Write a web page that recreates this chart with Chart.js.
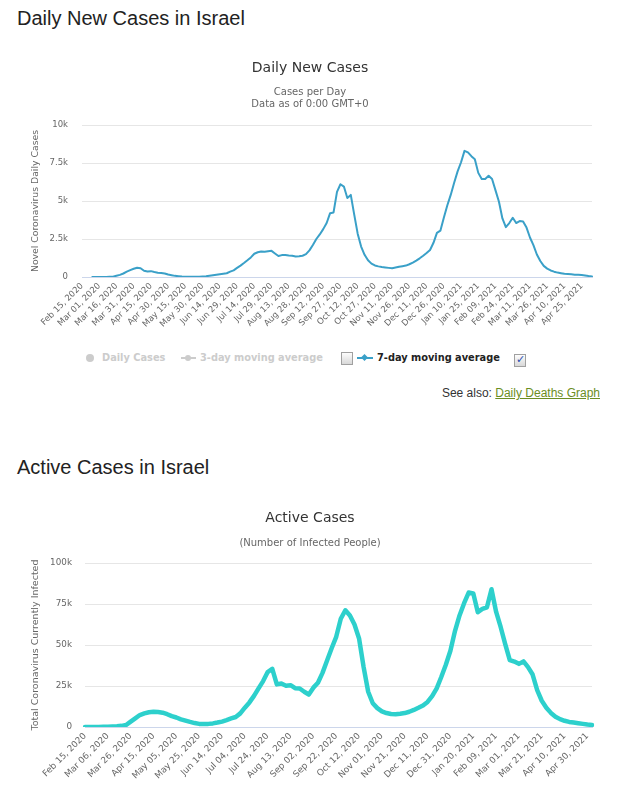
<!DOCTYPE html>
<html>
<head>
<meta charset="utf-8">
<script src="https://cdn.jsdelivr.net/npm/chart.js@4/dist/chart.umd.min.js"></script>
<style>
  html, body { margin: 0; padding: 0; background: #fff; }
  body { width: 620px; height: 800px; position: relative; overflow: hidden; font-family: "Liberation Sans", Arial, sans-serif; }
  .heading { position: absolute; left: 17px; margin: 0; font-weight: normal; font-size: 20px; line-height: 24px; color: #222; }
  #head1 { top: 6px; }
  #head2 { top: 455px; }
  canvas { position: absolute; left: 0; }
  #c1 { top: 50px; }
  #c2 { top: 495px; }
  .lg { position: absolute; font-family: "DejaVu Sans", Verdana, sans-serif; font-size: 9.8px; font-weight: bold; line-height: 14px; top: 351px; white-space: nowrap; }
  .off { color: #cccccc; }
  .on { color: #222; }
  .dot { position: absolute; top: 354px; left: 86px; width: 8px; height: 8px; border-radius: 50%; background: #cccccc; }
  .sym { position: absolute; height: 2px; top: 357px; }
  .symdot { position: absolute; top: 355px; width: 6px; height: 6px; border-radius: 50%; background: #cccccc; }
  .diam { position: absolute; top: 355px; width: 5px; height: 5px; background: #3aa0c8; transform: rotate(45deg); }
  .cb { position: absolute; width: 10px; height: 11px; border: 1px solid #a0a0a0; background: linear-gradient(#fdfdfd, #d8d8d8); box-sizing: content-box; }
  .cb span { position: absolute; left: 1px; top: -2px; font-size: 11px; color: #2a4fb0; font-family: "DejaVu Sans", sans-serif; }
  #seealso { position: absolute; right: 20px; top: 385px; font-size: 12px; line-height: 16px; color: #333; }
  #seealso a { color: #6b8e23; text-decoration: underline; }
</style>
</head>
<body>
<h2 class="heading" id="head1">Daily New Cases in Israel</h2>
<canvas id="c1" width="620" height="295"></canvas>

<div class="dot"></div>
<div class="lg off" style="left:102px;">Daily Cases</div>
<div class="sym" style="left:181px;width:15px;background:#cccccc;"></div>
<div class="symdot" style="left:185px;"></div>
<div class="lg off" style="left:200px;">3-day moving average</div>
<div class="cb" style="left:341px;top:352px;"></div>
<div class="sym" style="left:357px;width:16px;background:#3aa0c8;"></div>
<div class="diam" style="left:362px;"></div>
<div class="lg on" style="left:377px;">7-day moving average</div>
<div class="cb" style="left:514px;top:354px;"><span>✓</span></div>

<div id="seealso">See also: <a href="#">Daily Deaths Graph</a></div>

<h2 class="heading" id="head2">Active Cases in Israel</h2>
<canvas id="c2" width="620" height="305"></canvas>

<script>
// ---------- Data: Daily New Cases (7-day moving average), sampled every 3 days from Feb 15, 2020 ----------
const dailyStart = '2020-02-15';
const dailyStepDays = 3;
const dailyNew7DayAvg = [
  null, null, null, 0, 3, 5, 6, 8, 9, 12,
  85, 140, 230, 350, 450, 540, 610, 580, 410, 360,
  385, 330, 285, 265, 235, 160, 115, 75, 50, 30,
  22, 20, 18, 18, 20, 35, 50, 80, 115, 150,
  180, 210, 245, 350, 440, 600, 750, 920, 1100, 1290,
  1530, 1630, 1680, 1660, 1700, 1720, 1550, 1380, 1440, 1450,
  1420, 1400, 1350, 1370, 1400, 1500, 1750, 2100, 2500, 2800,
  3150, 3550, 4200, 4250, 5600, 6100, 5950, 5200, 5400, 4100,
  2850, 2000, 1460, 1100, 880, 760, 700, 660, 630, 600,
  575, 620, 670, 710, 750, 840, 950, 1080, 1230, 1400,
  1580, 1780, 2250, 2900, 3050, 3900, 4700, 5400, 6200, 6950,
  7550, 8300, 8200, 7950, 7750, 6850, 6450, 6450, 6660, 6450,
  5700, 4950, 3850, 3280, 3550, 3900, 3550, 3680, 3650, 3250,
  2600, 2100, 1480, 1050, 730, 550, 430, 350, 290, 250,
  210, 190, 175, 155, 145, 125, 100, 65, 40
];
const dailyXTickLabels = [
  'Feb 15, 2020', 'Mar 01, 2020', 'Mar 16, 2020', 'Mar 31, 2020', 'Apr 15, 2020', 'Apr 30, 2020',
  'May 15, 2020', 'May 30, 2020', 'Jun 14, 2020', 'Jun 29, 2020', 'Jul 14, 2020', 'Jul 29, 2020',
  'Aug 13, 2020', 'Aug 28, 2020', 'Sep 12, 2020', 'Sep 27, 2020', 'Oct 12, 2020', 'Oct 27, 2020',
  'Nov 11, 2020', 'Nov 26, 2020', 'Dec 11, 2020', 'Dec 26, 2020', 'Jan 10, 2021', 'Jan 25, 2021',
  'Feb 09, 2021', 'Feb 24, 2021', 'Mar 11, 2021', 'Mar 26, 2021', 'Apr 10, 2021', 'Apr 25, 2021'
];
const dailyYTickLabels = { 0: '0', 2500: '2.5k', 5000: '5k', 7500: '7.5k', 10000: '10k' };

// ---------- Data: Active Cases, sampled every 4 days from Feb 15, 2020 ----------
const activeStart = '2020-02-15';
const activeStepDays = 4;
const activeCases = [
  0, 5, 20, 60, 100, 150, 250, 400, 700, 1200,
  3300, 5300, 7300, 8300, 9000, 9300, 9100, 8700, 7800, 6600,
  5800, 4700, 3900, 3100, 2400, 1900, 1800, 1900, 2200, 2700,
  3300, 4200, 5200, 6100, 8300, 11800, 15000, 19000, 23600, 28000,
  33500, 35500, 26000, 26500, 25200, 25500, 23700, 23500, 21500, 19800,
  24000, 27000, 33000, 40500, 48000, 55000, 66000, 71200, 68000, 62500,
  54000, 36500, 21500, 14500, 11500, 9500, 8500, 7900, 7800, 8100,
  8500, 9300, 10400, 11700, 13100, 15300, 18800, 23600, 30500, 38000,
  46500, 58500, 68000, 75500, 82000, 81500, 70000, 72000, 73000, 84000,
  70300, 61000, 50500, 40800, 39900, 38500, 40000, 36500, 32000, 22500,
  16000, 11800, 8600, 6300, 4800, 3800, 3100, 2700, 2300, 1900,
  1500, 1250
];
const activeXTickLabels = [
  'Feb 15, 2020', 'Mar 06, 2020', 'Mar 26, 2020', 'Apr 15, 2020', 'May 05, 2020', 'May 25, 2020',
  'Jun 14, 2020', 'Jul 04, 2020', 'Jul 24, 2020', 'Aug 13, 2020', 'Sep 02, 2020', 'Sep 22, 2020',
  'Oct 12, 2020', 'Nov 01, 2020', 'Nov 21, 2020', 'Dec 11, 2020', 'Dec 31, 2020', 'Jan 20, 2021',
  'Feb 09, 2021', 'Mar 01, 2021', 'Mar 21, 2021', 'Apr 10, 2021', 'Apr 30, 2021'
];
const activeYTickLabels = { 0: '0', 25000: '25k', 50000: '50k', 75000: '75k', 100000: '100k' };

// ---------- helpers ----------
const MONTHS = ['Jan','Feb','Mar','Apr','May','Jun','Jul','Aug','Sep','Oct','Nov','Dec'];
function buildCategories(startIso, step, count) {
  const base = new Date(startIso + 'T00:00:00Z').getTime();
  const out = [];
  for (let i = 0; i < count; i++) {
    const d = new Date(base + i * step * 86400000);
    out.push(MONTHS[d.getUTCMonth()] + ' ' + String(d.getUTCDate()).padStart(2, '0') + ', ' + d.getUTCFullYear());
  }
  return out;
}
const dailyCategories = buildCategories(dailyStart, dailyStepDays, dailyNew7DayAvg.length);
const activeCategories = buildCategories(activeStart, activeStepDays, activeCases.length);

Chart.defaults.font.family = '"DejaVu Sans", Verdana, sans-serif';
Chart.defaults.color = '#666';

function makeChart(id, cfg) {
  return new Chart(document.getElementById(id), {
    type: 'line',
    data: {
      labels: cfg.labels,
      datasets: [{
        label: cfg.seriesName,
        data: cfg.data,
        borderColor: cfg.color,
        borderWidth: cfg.lineWidth,
        pointRadius: 0,
        pointHoverRadius: 0,
        fill: false,
        tension: 0,
        spanGaps: false,
        borderJoinStyle: 'round',
        borderCapStyle: 'round'
      }]
    },
    options: {
      responsive: false,
      animation: false,
      devicePixelRatio: 1,
      events: [],
      layout: { padding: { left: 28, right: 28, top: 0, bottom: 0 } },
      plugins: {
        legend: { display: false },
        tooltip: { enabled: false },
        title: { display: true, text: cfg.title, color: '#333', font: { size: 14, weight: 'normal' }, padding: cfg.titlePad },
        subtitle: { display: true, text: cfg.subtitle, color: '#666', font: { size: cfg.subSize }, padding: cfg.subPad }
      },
      scales: {
        x: {
          ticks: {
            autoSkip: false, minRotation: 45, maxRotation: 45, padding: cfg.xPad,
            color: '#666', font: { size: cfg.xFont },
            callback: (v, i) => (i % 5 === 0 && cfg.xTicks[i / 5]) ? cfg.xTicks[i / 5] : null
          },
          grid: { display: false, drawTicks: false },
          border: { display: true, color: '#ccd6eb', width: 1 },
          afterFit: s => { s.height = cfg.xHeight; }
        },
        y: {
          min: 0, max: cfg.yMax,
          ticks: { stepSize: cfg.yStep, padding: cfg.yPad, color: '#666', font: { size: cfg.yFont },
                   callback: v => cfg.yTicks[v] },
          grid: { color: '#e6e6e6', drawTicks: false, lineWidth: 1 },
          border: { display: false },
          title: { display: true, text: cfg.yTitle, color: '#666', font: { size: cfg.yTitleFont }, padding: { top: cfg.yTitlePad, bottom: 0 } },
          afterFit: s => { s.width = cfg.yWidth; }
        }
      }
    }
  });
}

makeChart('c1', {
  labels: dailyCategories, data: dailyNew7DayAvg, seriesName: '7-day moving average',
  color: '#3aa0c8', lineWidth: 2,
  title: 'Daily New Cases', titlePad: { top: 9.6, bottom: 0 },
  subtitle: ['Cases per Day', 'Data as of 0:00 GMT+0'], subSize: 10, subPad: { top: 9.6, bottom: 15 },
  xTicks: dailyXTickLabels, xFont: 8.5, xPad: 4, xHeight: 68,
  yMax: 10000, yStep: 2500, yTicks: dailyYTickLabels, yFont: 8.5, yPad: 14,
  yTitle: 'Novel Coronavirus Daily Cases', yTitleFont: 9.3, yTitlePad: 2, yWidth: 54
});

makeChart('c2', {
  labels: activeCategories, data: activeCases, seriesName: 'Currently Infected',
  color: '#2dd0cc', lineWidth: 4.5,
  title: 'Active Cases', titlePad: { top: 14.6, bottom: 0 },
  subtitle: '(Number of Infected People)', subSize: 10, subPad: { top: 10.6, bottom: 14 },
  xTicks: activeXTickLabels, xFont: 8.8, xPad: 4, xHeight: 73,
  yMax: 100000, yStep: 25000, yTicks: activeYTickLabels, yFont: 8.8, yPad: 13,
  yTitle: 'Total Coronavirus Currently Infected', yTitleFont: 9.5, yTitlePad: 2, yWidth: 57
});
</script>
</body>
</html>
